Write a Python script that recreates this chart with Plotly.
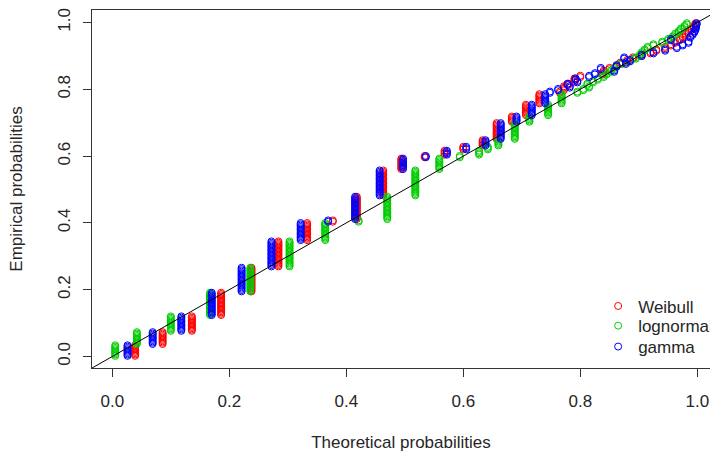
import numpy as np
import plotly.graph_objects as go

N_OBS = 254
# last rank of each tied group of the sorted observations
group_last_rank = [9, 19, 31, 49, 68, 88, 102, 104, 122, 142, 151, 153, 157, 160, 165, 178, 183, 192, 200,
                   202, 204, 206, 208, 210, 212, 214, 216, 218, 220, 222, 224, 226, 228, 230, 232,
                   234, 236, 238, 240, 242, 244, 246, 248, 250, 252, 254]

# theoretical probabilities of each group, per fitted distribution
weibull_p = [0.039, 0.086, 0.136, 0.186, 0.238, 0.284, 0.333, 0.377, 0.418, 0.463, 0.494, 0.534, 0.568,
             0.600, 0.633, 0.657, 0.683, 0.707, 0.730,
             0.765, 0.772, 0.772, 0.780, 0.790, 0.790, 0.800, 0.838, 0.840, 0.850, 0.862, 0.868, 0.880,
             0.890, 0.905, 0.920, 0.930, 0.945, 0.955, 0.962, 0.970, 0.975, 0.980, 0.985, 0.990, 0.994, 0.997]
lognormal_p = [0.005, 0.042, 0.100, 0.167, 0.236, 0.303, 0.364, 0.421, 0.470, 0.518, 0.559, 0.594, 0.627,
               0.642, 0.660, 0.688, 0.713, 0.745, 0.768,
               0.795, 0.805, 0.815, 0.812, 0.822, 0.830, 0.840, 0.845, 0.852, 0.858, 0.862, 0.872, 0.885,
               0.895, 0.902, 0.905, 0.910, 0.915, 0.925, 0.940, 0.950, 0.958, 0.962, 0.968, 0.972, 0.978, 0.982]
gamma_p = [0.026, 0.069, 0.118, 0.170, 0.221, 0.272, 0.322, 0.369, 0.415, 0.457, 0.497, 0.536, 0.572,
           0.605, 0.638, 0.664, 0.691, 0.717, 0.740,
           0.748, 0.762, 0.782, 0.778, 0.795, 0.792, 0.815, 0.825, 0.858, 0.835, 0.862, 0.878, 0.885,
           0.875, 0.905, 0.925, 0.945, 0.965, 0.975, 0.985, 0.955, 0.988, 0.992, 0.995, 0.997, 0.998, 0.999]

legend_text = ["Weibull", "lognormal", "gamma"]
fit_colors = ["#FF0000", "#00CD00", "#0000FF"]

x_ticks = [0.0, 0.2, 0.4, 0.6, 0.8, 1.0]
y_ticks = [0.0, 0.2, 0.4, 0.6, 0.8, 1.0]


def expand(probs):
    xs, ys = [], []
    first = 1
    for p, last in zip(probs, group_last_rank):
        for r in range(first, last + 1):
            xs.append(p)
            ys.append((r - 0.5) / N_OBS)
        first = last + 1
    return xs, ys


FONT = "Liberation Sans, Arial, sans-serif"
TXT = "#262626"

fig = go.Figure()
legend_ids = ["legend", "legend2", "legend3"]
for name, probs, col, lid in zip(legend_text, [weibull_p, lognormal_p, gamma_p], fit_colors, legend_ids):
    xs, ys = expand(probs)
    fig.add_trace(go.Scatter(
        x=xs, y=ys, mode="markers", name=name, legend=lid,
        marker=dict(symbol="circle-open", size=7, color=col, line=dict(width=1, color=col)),
    ))

fig.add_trace(go.Scatter(x=[-0.1, 1.1], y=[-0.1, 1.1], mode="lines",
                         line=dict(color="black", width=1), showlegend=False, hoverinfo="skip"))

leg_common = dict(x=0.819, xanchor="left", yanchor="middle", bgcolor="rgba(0,0,0,0)",
                  font=dict(size=17, color=TXT), itemsizing="trace")
fig.update_layout(
    width=710, height=452,
    margin=dict(l=92, r=0, t=10, b=84, autoexpand=False),
    paper_bgcolor="white", plot_bgcolor="white",
    font=dict(family=FONT, size=17, color=TXT),
    showlegend=True,
    legend=dict(y=0.172, **leg_common),
    legend2=dict(y=0.117, **leg_common),
    legend3=dict(y=0.0587, **leg_common),
)
fig.update_xaxes(range=[-0.0347, 1.0217], tickvals=x_ticks, ticktext=[f"{v:.1f}" for v in x_ticks],
                 showgrid=False, zeroline=False, showline=True, mirror=True, linecolor="#333",
                 linewidth=1, ticks="outside", ticklen=8, tickcolor="#333", ticklabelstandoff=10,
                 automargin=False, tickfont=dict(size=17, color=TXT),
                 title=dict(text="Theoretical probabilities", standoff=26,
                            font=dict(size=17, color=TXT)))
fig.update_yaxes(range=[-0.0345, 1.0375], tickvals=y_ticks, ticktext=[f"{v:.1f}" for v in y_ticks],
                 showgrid=False, zeroline=False, showline=True, mirror=False, linecolor="#333",
                 linewidth=1, ticks="outside", ticklen=8, tickcolor="#333", tickangle=-90,
                 ticklabelstandoff=6, automargin=False, tickfont=dict(size=17, color=TXT),
                 title=dict(text="Empirical probabilities", standoff=28,
                            font=dict(size=17, color=TXT)))

fig.write_html("out.html", config={"displayModeBar": False},
               post_script="document.body.style.margin='0';")
